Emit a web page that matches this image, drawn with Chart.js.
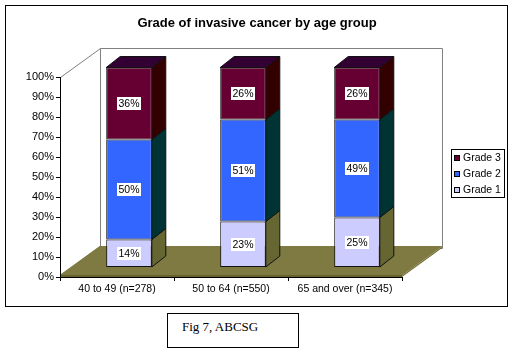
<!DOCTYPE html>
<html><head><meta charset="utf-8">
<script src="https://cdn.jsdelivr.net/npm/chart.js@4"></script>
<style>
html,body{margin:0;padding:0;background:#fff;width:514px;height:354px;overflow:hidden}
#wrap{position:relative;width:514px;height:354px}
#caption{position:absolute;left:167px;top:313px;width:132px;height:35px;border:1px solid #000;box-sizing:border-box;font-family:"Liberation Serif","Times New Roman",serif;font-size:13px;line-height:13px;padding:6px 0 0 14px;color:#000;background:#fff}
</style></head>
<body>
<div id="wrap">
<canvas id="c" width="514" height="354"></canvas>
<div id="caption">Fig 7, ABCSG</div>
</div>
<script>
// ---- data ----
const categories = ['40 to 49 (n=278)', '50 to 64 (n=550)', '65 and over (n=345)'];
const seriesNames = ['Grade 1', 'Grade 2', 'Grade 3'];
const grade1 = [14, 23, 25];
const grade2 = [50, 51, 49];
const grade3 = [36, 26, 26];
const yTickValues = [0, 10, 20, 30, 40, 50, 60, 70, 80, 90, 100];
const chartTitle = 'Grade of invasive cancer by age group';

// ---- styles ----
const frontColors = ['#CCCCFF', '#3366FF', '#660033'];
const sideColors = ['#666633', '#003333', '#330000'];
const topColor = '#330033';
const floorColor = '#7F7A42';
const floorEdge = '#66622F';
const FONT = '"Liberation Sans", Arial, sans-serif';

// 3D geometry (pixels)
const BAR_DX = 12, BAR_DY = -9.5;      // bar front plane offset into depth
const DEPTH_X = 14, DEPTH_Y = -11;     // bar depth
const WALL_X = 40, WALL_Y = -29;       // chart depth

const seriesValues = [grade1, grade2, grade3];

const scene3d = {
  id: 'scene3d',
  beforeDraw(chart) {
    const {ctx, chartArea: a} = chart;
    ctx.save();
    // outer border
    ctx.fillStyle = '#fff';
    ctx.fillRect(0, 0, chart.width, chart.height);
    ctx.strokeStyle = '#000';
    ctx.lineWidth = 1;
    ctx.strokeRect(5.5, 5.5, 502, 301);
    // back wall
    ctx.strokeStyle = '#808080';
    ctx.fillStyle = '#fff';
    ctx.beginPath();
    ctx.rect(a.left + WALL_X + 0.5, a.top + WALL_Y + 0.5, a.right - a.left, a.bottom - a.top);
    ctx.fill(); ctx.stroke();
    // left wall top edge
    ctx.beginPath();
    ctx.moveTo(a.left + 0.5, a.top + 0.5);
    ctx.lineTo(a.left + WALL_X + 0.5, a.top + WALL_Y + 0.5);
    ctx.stroke();
    // floor slab
    const fb = a.bottom - 2;
    ctx.fillStyle = floorEdge;
    ctx.beginPath();
    ctx.moveTo(a.left, a.bottom);
    ctx.lineTo(a.right, a.bottom);
    ctx.lineTo(a.right + WALL_X, a.bottom + WALL_Y);
    ctx.lineTo(a.right + WALL_X, a.bottom + WALL_Y - 2);
    ctx.lineTo(a.left + WALL_X, a.bottom + WALL_Y - 2);
    ctx.lineTo(a.left, fb);
    ctx.closePath();
    ctx.fill();
    ctx.fillStyle = floorColor;
    ctx.beginPath();
    ctx.moveTo(a.left, fb);
    ctx.lineTo(a.right, fb);
    ctx.lineTo(a.right + WALL_X, fb + WALL_Y);
    ctx.lineTo(a.left + WALL_X, fb + WALL_Y);
    ctx.closePath();
    ctx.fill();
    ctx.strokeStyle = '#A09C68';
    ctx.beginPath();
    ctx.moveTo(a.right, fb + 0.5);
    ctx.lineTo(a.right + WALL_X, fb + WALL_Y + 0.5);
    ctx.stroke();
    ctx.restore();
  },
  beforeDatasetsDraw(chart) {
    chart.ctx.save();
    chart.ctx.translate(BAR_DX, BAR_DY);
  },
  afterDatasetsDraw(chart) {
    const ctx = chart.ctx;
    const n = chart.data.datasets.length;
    // side and top faces
    chart.data.datasets.forEach((ds, di) => {
      const meta = chart.getDatasetMeta(di);
      meta.data.forEach((bar) => {
        const p = bar.getProps(['x', 'y', 'base', 'width'], true);
        const l = p.x - p.width / 2, r = p.x + p.width / 2;
        ctx.lineWidth = 1;
        ctx.strokeStyle = '#111';
        ctx.fillStyle = sideColors[di];
        ctx.beginPath();
        ctx.moveTo(r, p.y);
        ctx.lineTo(r + DEPTH_X, p.y + DEPTH_Y);
        ctx.lineTo(r + DEPTH_X, p.base + DEPTH_Y);
        ctx.lineTo(r, p.base);
        ctx.closePath();
        ctx.fill(); ctx.stroke();
        if (di === n - 1) {
          ctx.fillStyle = topColor;
          ctx.beginPath();
          ctx.moveTo(l, p.y);
          ctx.lineTo(l + DEPTH_X, p.y + DEPTH_Y);
          ctx.lineTo(r + DEPTH_X, p.y + DEPTH_Y);
          ctx.lineTo(r, p.y);
          ctx.closePath();
          ctx.fill(); ctx.stroke();
        }
      });
    });
    // value labels
    ctx.font = '10.5px ' + FONT;
    ctx.textAlign = 'center';
    ctx.textBaseline = 'middle';
    chart.data.datasets.forEach((ds, di) => {
      const meta = chart.getDatasetMeta(di);
      meta.data.forEach((bar, i) => {
        const p = bar.getProps(['x', 'y', 'base'], true);
        const txt = ds.data[i] + '%';
        const w = Math.round(ctx.measureText(txt).width) + 3;
        const h = 13;
        const cy = Math.round((p.y + p.base) / 2);
        const cx = Math.round(p.x);
        ctx.fillStyle = '#fff';
        ctx.fillRect(cx - w / 2, cy - h / 2, w, h);
        ctx.fillStyle = '#000';
        ctx.fillText(txt, cx, cy + 0.5);
      });
    });
    ctx.restore();
  },
  afterDraw(chart) {
    const ctx = chart.ctx;
    ctx.save();
    const lx = 451, ly = 149, lw = 53, lh = 48;
    ctx.fillStyle = '#fff';
    ctx.fillRect(lx, ly, lw, lh);
    ctx.strokeStyle = '#000';
    ctx.lineWidth = 1;
    ctx.strokeRect(lx + 0.5, ly + 0.5, lw, lh);
    ctx.font = '10.5px ' + FONT;
    ctx.textBaseline = 'middle';
    ctx.textAlign = 'left';
    const items = chart.data.datasets.map((d, i) => ({label: d.label, color: d.backgroundColor})).reverse();
    items.forEach((it, k) => {
      const cy = ly + 9 + k * 16;
      ctx.fillStyle = it.color;
      ctx.fillRect(lx + 3, cy - 3, 6, 6);
      ctx.strokeStyle = '#000';
      ctx.strokeRect(lx + 3.5, cy - 2.5, 5, 5);
      ctx.fillStyle = '#000';
      ctx.fillText(it.label, lx + 12, cy + 0.5);
    });
    ctx.restore();
  }
};

new Chart(document.getElementById('c'), {
  type: 'bar',
  data: {
    labels: categories,
    datasets: seriesNames.map((name, i) => ({
      label: name,
      data: seriesValues[i],
      backgroundColor: frontColors[i],
      borderColor: '#111',
      borderWidth: 1,
      borderSkipped: false,
      barPercentage: 0.4,
      categoryPercentage: 1,
      clip: false
    }))
  },
  options: {
    responsive: false,
    animation: false,
    devicePixelRatio: 1,
    layout: {padding: {left: 5, right: 5, top: 0, bottom: 57}},
    plugins: {
      legend: {display: false},
      tooltip: {enabled: false},
      title: {
        display: true,
        text: chartTitle,
        color: '#000',
        font: {family: FONT, size: 13, weight: 'bold'},
        padding: {top: 16, bottom: 45.4}
      }
    },
    scales: {
      x: {
        stacked: true,
        offset: true,
        grid: {display: true, drawOnChartArea: false, drawTicks: true, tickLength: 4, color: '#000'},
        border: {display: true, color: '#000'},
        ticks: {color: '#000', font: {family: FONT, size: 10.5}, padding: 2, maxRotation: 0, autoSkip: false},
        afterFit(s) { s.height = 20; }
      },
      y: {
        stacked: true,
        min: 0,
        max: 100,
        afterBuildTicks(s) { s.ticks = yTickValues.map(v => ({value: v})); },
        grid: {display: true, drawOnChartArea: false, drawTicks: true, tickLength: 4, color: '#000'},
        border: {display: true, color: '#000'},
        ticks: {color: '#000', font: {family: FONT, size: 11}, padding: 2, callback: v => v + '%'},
        afterFit(s) { s.width = 55; }
      },
      yRight: {
        position: 'right',
        display: true,
        grid: {display: false},
        border: {display: false},
        ticks: {display: false},
        afterFit(s) { s.width = 107; }
      }
    }
  },
  plugins: [scene3d]
});
</script>
</body></html>
